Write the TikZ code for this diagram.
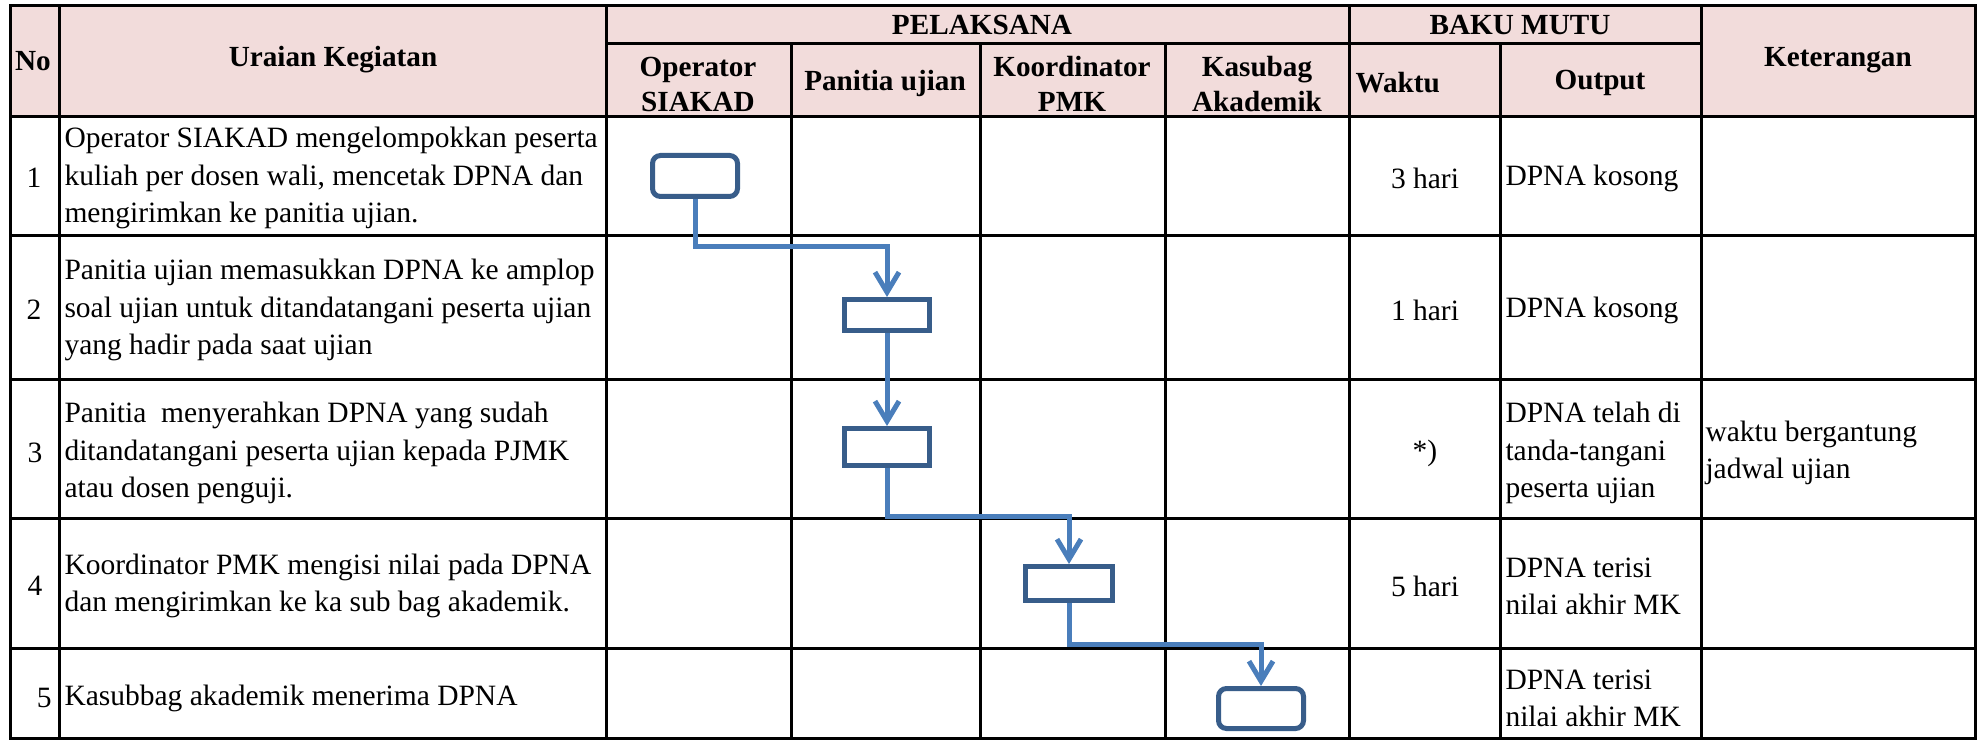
\documentclass[tikz,border=0pt]{standalone}
\usepackage{fontspec}
\setmainfont{Liberation Serif}
\usetikzlibrary{arrows.meta}

\definecolor{headpink}{HTML}{F2DCDB}
\definecolor{boxblue}{HTML}{385D8A}
\definecolor{lineblue}{HTML}{4A7EBB}

\begin{document}
\begin{tikzpicture}[x=0.5pt,y=-0.5pt,line width=1.5pt,every node/.style={inner sep=0}]

\tikzstyle{grid} = [line width=1.5pt,line cap=rect];
\tikzstyle{process} = [rectangle,draw=boxblue,line width=2.5pt,fill=white,minimum width=42.5pt];
\tikzstyle{terminal} = [process,rounded corners=4pt];
\tikzstyle{flow} = [-{Straight Barb[length=10pt,width=12pt]},draw=lineblue,line width=2.5pt];
\tikzstyle{head} = [font=\bfseries\fontsize{14.6}{17.5}\selectfont,align=center];
\tikzstyle{body} = [font=\fontsize{14.75}{18.6}\selectfont,align=left];

\useasboundingbox (0,0) rectangle (1981,743);
\fill[headpink] (10,6) rectangle (1975,117);

% table lines
\foreach \y in {6,117,236,379,518,648,738} \draw[grid] (10,\y) -- (1975,\y);
\draw[grid] (606,44) -- (1701,44);
\foreach \x in {10,59,606,1349,1701,1975} \draw[grid] (\x,6) -- (\x,738);
\foreach \x in {791,980,1165,1500} \draw[grid] (\x,44) -- (\x,738);

% header
\node[head] (hno) at (33,61) {No};
\node[head] (hur) at (333,60) {Uraian Kegiatan};
\node[head] (hpel) at (982,25) {PELAKSANA};
\node[head] (hbaku) at (1520,25) {BAKU MUTU};
\node[head] (hop) at (698,84) {Operator\\SIAKAD};
\node[head] (hpan) at (885,83) {Panitia ujian};
\node[head] (hkoor) at (1072,84) {Koordinator\\PMK};
\node[head] (hkas) at (1257,84) {Kasubag\\Akademik};
\node[head,anchor=west] (hwak) at (1354,83) {Waktu};
\node[head] (hout) at (1600,83) {Output};
\node[head] (hket) at (1838,60) {Keterangan};

% rows
\node[body] (n1) at (34,178) {1};
\node[body] (n2) at (34,310) {2};
\node[body] (n3) at (35,453) {3};
\node[body] (n4) at (35,586) {4};
\node[body,anchor=east] (n5) at (53,698) {5};

\node[body,anchor=west] (u1) at (63,178) {Operator SIAKAD mengelompokkan peserta\\kuliah per dosen wali, mencetak DPNA dan\\mengirimkan ke panitia ujian.};
\node[body,anchor=west] (u2) at (63,310) {Panitia ujian memasukkan DPNA ke amplop\\soal ujian untuk ditandatangani peserta ujian\\yang hadir pada saat ujian};
\node[body,anchor=west] (u3) at (63,453) {Panitia\ \ menyerahkan DPNA yang sudah\\ditandatangani peserta ujian kepada PJMK\\atau dosen penguji.};
\node[body,anchor=west] (u4) at (63,586) {Koordinator PMK mengisi nilai pada DPNA\\dan mengirimkan ke ka sub bag akademik.};
\node[body,anchor=west] (u5) at (63,698) {Kasubbag akademik menerima DPNA};

\node[body] (w1) at (1425,178) {3 hari};
\node[body] (w2) at (1425,310) {1 hari};
\node[body] (w3) at (1425,453) {*)};
\node[body] (w4) at (1425,586) {5 hari};

\node[body,anchor=west] (o1) at (1504,178) {DPNA kosong};
\node[body,anchor=west] (o2) at (1504,310) {DPNA kosong};
\node[body,anchor=west] (o3) at (1504,453) {DPNA telah di\\tanda-tangani\\peserta ujian};
\node[body,anchor=west] (o4) at (1504,586) {DPNA terisi\\nilai akhir MK};
\node[body,anchor=west] (o5) at (1504,698) {DPNA terisi\\nilai akhir MK};

\node[body,anchor=west] (k3) at (1704,453) {waktu bergantung\\jadwal ujian};

% flow boxes
\node[terminal,minimum height=20.5pt] (s1) at (695,176) {};
\node[process,minimum height=15.5pt] (s2) at (887,315) {};
\node[process,minimum height=18.5pt] (s3) at (887,447) {};
\node[process,minimum width=43.5pt,minimum height=17pt] (s4) at (1069,583.5) {};
\node[terminal,minimum height=20pt] (s5) at (1261,708.5) {};

\coordinate (j1) at (0,247);
\coordinate (j2) at (0,516);
\coordinate (j3) at (0,644);
\draw[flow] (s1.south) -- (s1.south |- j1) -| (s2.north);
\draw[flow] (s2.south) -- (s3.north);
\draw[flow] (s3.south) -- (s3.south |- j2) -| (s4.north);
\draw[flow] (s4.south) -- (s4.south |- j3) -| (s5.north);
\end{tikzpicture}
\end{document}
